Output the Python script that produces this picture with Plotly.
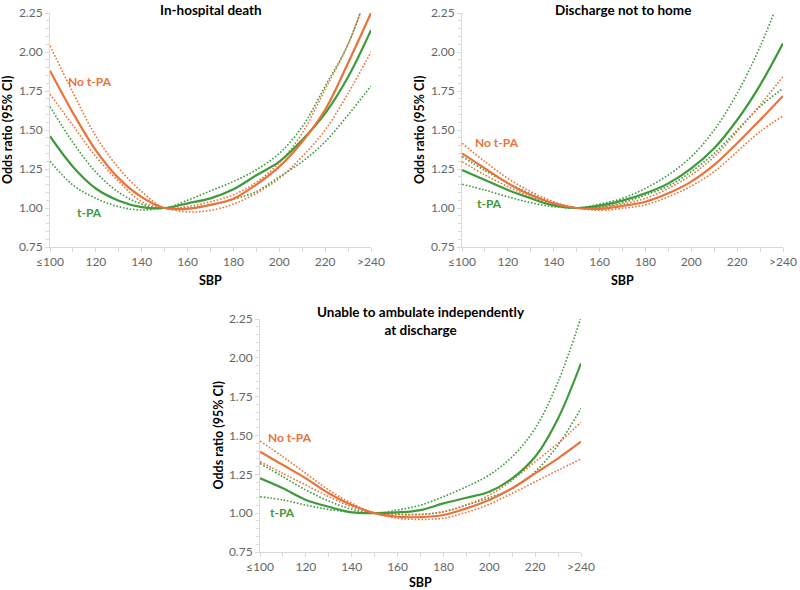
import plotly.graph_objects as go

# ---------------- data ----------------
sbp = [100, 110, 120, 130, 140, 150, 160, 170, 180, 190, 200, 210, 220, 230, 240]
x_tickvals = [100, 120, 140, 160, 180, 200, 220, 240]
x_ticktext = ["≤100", "120", "140", "160", "180", "200", "220", ">240"]
y_tickvals = [0.75, 1.00, 1.25, 1.50, 1.75, 2.00, 2.25]

titles = ["In-hospital death", "Discharge not to home",
          "Unable to ambulate independently<br>at discharge"]

# Panel 1: In-hospital death
p1_notpa = [1.88, 1.61, 1.37, 1.19, 1.07, 1.00, 0.995, 1.02, 1.06, 1.15, 1.265, 1.425, 1.63, 1.93, 2.25]
p1_notpa_hi = [2.04, 1.74, 1.46, 1.255, 1.105, 1.00, 1.01, 1.04, 1.085, 1.165, 1.29, 1.48, 1.76, 2.05, 2.45]
p1_notpa_lo = [1.73, 1.53, 1.33, 1.17, 1.04, 1.00, 0.975, 0.985, 1.025, 1.095, 1.19, 1.33, 1.50, 1.735, 2.00]
p1_tpa = [1.46, 1.265, 1.125, 1.047, 1.006, 1.00, 1.03, 1.062, 1.12, 1.21, 1.297, 1.436, 1.607, 1.84, 2.14]
p1_tpa_hi = [1.65, 1.42, 1.23, 1.10, 1.025, 1.00, 1.05, 1.11, 1.17, 1.245, 1.35, 1.52, 1.78, 2.05, 2.45]
p1_tpa_lo = [1.30, 1.147, 1.062, 1.008, 0.987, 1.00, 1.00, 1.02, 1.056, 1.105, 1.20, 1.297, 1.425, 1.596, 1.782]

# Panel 2: Discharge not to home
p2_notpa = [1.35, 1.254, 1.158, 1.083, 1.03, 1.00, 0.995, 1.013, 1.04, 1.094, 1.169, 1.276, 1.415, 1.564, 1.718]
p2_notpa_hi = [1.415, 1.297, 1.19, 1.105, 1.04, 1.00, 1.005, 1.025, 1.062, 1.126, 1.212, 1.329, 1.49, 1.66, 1.842]
p2_notpa_lo = [1.297, 1.212, 1.137, 1.072, 1.02, 1.00, 0.985, 0.998, 1.02, 1.072, 1.141, 1.233, 1.361, 1.49, 1.59]
p2_tpa = [1.244, 1.18, 1.115, 1.062, 1.017, 1.00, 1.015, 1.047, 1.094, 1.158, 1.254, 1.383, 1.564, 1.788, 2.056]
p2_tpa_hi = [1.33, 1.24, 1.16, 1.09, 1.03, 1.00, 1.025, 1.062, 1.126, 1.212, 1.329, 1.50, 1.735, 2.034, 2.40]
p2_tpa_lo = [1.152, 1.115, 1.072, 1.034, 1.008, 1.00, 1.005, 1.034, 1.083, 1.141, 1.233, 1.35, 1.50, 1.65, 1.767]

# Panel 3: Unable to ambulate independently at discharge
p3_notpa = [1.396, 1.31, 1.224, 1.128, 1.052, 1.00, 0.977, 0.975, 0.988, 1.031, 1.085, 1.16, 1.256, 1.353, 1.46]
p3_notpa_hi = [1.464, 1.363, 1.256, 1.149, 1.064, 1.00, 0.99, 0.992, 1.009, 1.052, 1.117, 1.213, 1.331, 1.45, 1.585]
p3_notpa_lo = [1.331, 1.256, 1.181, 1.106, 1.041, 1.00, 0.967, 0.96, 0.967, 1.005, 1.057, 1.128, 1.202, 1.277, 1.349]
p3_tpa = [1.224, 1.16, 1.085, 1.041, 1.005, 1.00, 1.005, 1.02, 1.063, 1.099, 1.138, 1.224, 1.363, 1.61, 1.965]
p3_tpa_hi = [1.32, 1.235, 1.149, 1.078, 1.025, 1.00, 1.02, 1.052, 1.106, 1.17, 1.246, 1.363, 1.546, 1.846, 2.26]
p3_tpa_lo = [1.106, 1.085, 1.052, 1.024, 1.006, 1.00, 0.994, 0.992, 1.009, 1.052, 1.099, 1.16, 1.267, 1.439, 1.675]

# label positions (data coords) per panel: (No t-PA), (t-PA)
label_pos = [((117.4, 1.81), (117.4, 0.974)),
             ((115.2, 1.423), (112.2, 1.032)),
             ((113.1, 1.49), (109.6, 1.007))]

# ---------------- style ----------------
ORANGE = "#E9733A"
GREEN = "#3E9A3A"
AXIS = "#D9D9D9"
FONT = "Lato, 'Open Sans', sans-serif"
TICKFONT = dict(family=FONT, size=12, color="#666666")

panels = [
    (p1_notpa, p1_notpa_hi, p1_notpa_lo, p1_tpa, p1_tpa_hi, p1_tpa_lo),
    (p2_notpa, p2_notpa_hi, p2_notpa_lo, p2_tpa, p2_tpa_hi, p2_tpa_lo),
    (p3_notpa, p3_notpa_hi, p3_notpa_lo, p3_tpa, p3_tpa_hi, p3_tpa_lo),
]

W, H = 800, 590
# plot areas in pixels: (x0, x1, ytop, ybottom)
areas = [(50, 371, 13, 247), (462, 783, 13, 247), (260, 581, 319, 552)]
sbp_title_y = [280, 280, 582]

fig = go.Figure()
layout = {}
annotations = []

for i, (data, area) in enumerate(zip(panels, areas)):
    n = "" if i == 0 else str(i + 1)
    xa, ya = "x" + n, "y" + n
    notpa, notpa_hi, notpa_lo, tpa, tpa_hi, tpa_lo = data
    for vals, col, dotted in [(tpa_hi, GREEN, True), (tpa_lo, GREEN, True),
                              (notpa_hi, ORANGE, True), (notpa_lo, ORANGE, True),
                              (tpa, GREEN, False), (notpa, ORANGE, False)]:
        fig.add_trace(go.Scatter(
            x=sbp, y=vals, mode="lines", xaxis=xa, yaxis=ya, showlegend=False,
            line=dict(color=col, width=1.6 if dotted else 2.2, shape="spline",
                      dash="1.6px,1.8px" if dotted else "solid"),
            hoverinfo="skip"))
    x0, x1, yt, yb = area
    xdom = [x0 / W, x1 / W]
    ydom = [1 - yb / H, 1 - yt / H]
    layout["xaxis" + n] = dict(
        domain=xdom, range=[100, 240], anchor=ya, tickvals=x_tickvals, ticktext=x_ticktext,
        showline=True, linecolor=AXIS, linewidth=1, ticks="outside", ticklen=4,
        tickcolor=AXIS, showgrid=False, zeroline=False, tickfont=TICKFONT, automargin=False,
        ticklabeloverflow="allow", fixedrange=True,
        minor=dict(dtick=10, tick0=100, ticks="outside", ticklen=4, tickcolor=AXIS, showgrid=False))
    layout["yaxis" + n] = dict(
        domain=ydom, range=[0.75, 2.25], anchor=xa, tickvals=y_tickvals, tickformat=".2f",
        showline=True, linecolor=AXIS, linewidth=1, ticks="outside", ticklen=4,
        tickcolor=AXIS, showgrid=False, zeroline=False, tickfont=TICKFONT, automargin=False,
        ticklabeloverflow="allow", fixedrange=True,
        minor=dict(dtick=0.05, tick0=0.75, ticks="outside", ticklen=3, tickcolor=AXIS, showgrid=False))
    xc = (x0 + x1) / 2 / W
    title_y = 10 if i < 2 else 321
    annotations.append(dict(text="<b>%s</b>" % titles[i], x=xc, y=1 - title_y / H, xref="paper",
                            yref="paper", showarrow=False, xanchor="center", yanchor="middle",
                            font=dict(family=FONT, size=13.5, color="#000000")))
    annotations.append(dict(text="<b>SBP</b>", x=xc, y=1 - sbp_title_y[i] / H, xref="paper",
                            yref="paper", showarrow=False, xanchor="center", yanchor="middle",
                            font=dict(family=FONT, size=12.5, color="#000000")))
    annotations.append(dict(text="<b>Odds ratio (95% CI)</b>", x=(x0 - 42) / W,
                            y=1 - (yt + yb) / 2 / H, xref="paper", yref="paper",
                            showarrow=False, textangle=-90, xanchor="center", yanchor="middle",
                            font=dict(family=FONT, size=12.5, color="#000000")))
    (lx1, ly1), (lx2, ly2) = label_pos[i]
    annotations.append(dict(text="<b>No t-PA</b>", x=lx1, y=ly1, xref=xa, yref=ya,
                            showarrow=False, font=dict(family=FONT, size=12, color=ORANGE)))
    annotations.append(dict(text="<b>t-PA</b>", x=lx2, y=ly2, xref=xa, yref=ya,
                            showarrow=False, font=dict(family=FONT, size=12, color=GREEN)))

fig.update_layout(width=W, height=H, margin=dict(l=0, r=0, t=0, b=0),
                  plot_bgcolor="white", paper_bgcolor="white", hovermode=False,
                  annotations=annotations, **layout)
fig.write_html("out.html", config={"displayModeBar": False, "staticPlot": True},
               post_script="document.body.style.margin='0';")
